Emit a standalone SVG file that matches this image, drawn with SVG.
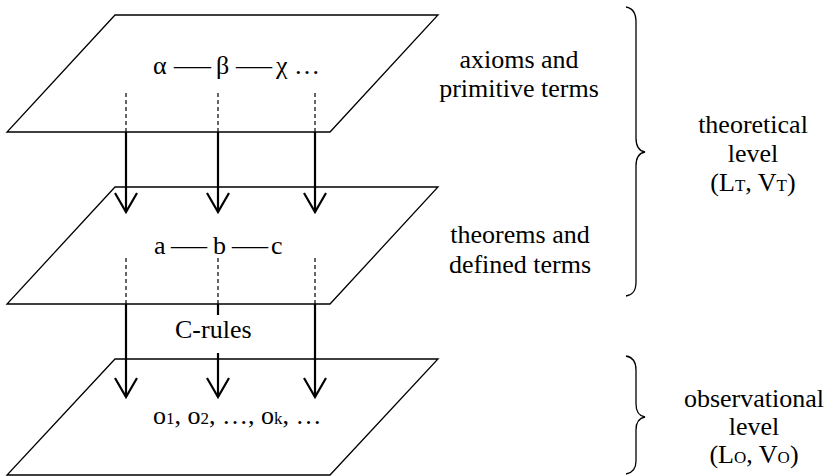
<svg xmlns="http://www.w3.org/2000/svg" width="831" height="476" viewBox="0 0 831 476">
  <style>
    .plane { fill: #fff; stroke: #000; stroke-width: 1.3; stroke-linejoin: miter; }
    .lbl { font-family: "Liberation Serif", "Times New Roman", serif; font-size: 26px; fill: #000; }
    .mid { text-anchor: middle; }
    .sub { font-size: 17px; }
    .dash { stroke: #000; stroke-width: 1.2; stroke-dasharray: 4 3; fill: none; }
    .arrow { stroke: #000; stroke-width: 2.2; fill: none; }
    .brace { stroke: #000; stroke-width: 1.3; fill: none; }
  </style>
  <defs>
    <marker id="head" markerUnits="userSpaceOnUse" viewBox="-22 -13 24 26" refX="0" refY="0" markerWidth="24" markerHeight="26" orient="auto" overflow="visible">
      <path d="M-19,-11 L0,0 L-19,11" fill="none" stroke="#000" stroke-width="2.2"/>
    </marker>
  </defs>
  <rect x="0" y="0" width="831" height="476" fill="#fff"/>

  <g id="plane-axioms">
    <polygon class="plane" points="115,15 438,15 330,132 7,132"/>
    <text class="lbl" y="74"><tspan x="153">α</tspan><tspan x="174" textLength="37" lengthAdjust="spacingAndGlyphs">—</tspan><tspan x="216">β</tspan><tspan x="236" textLength="36" lengthAdjust="spacingAndGlyphs">—</tspan><tspan x="276">χ</tspan><tspan x="294">…</tspan></text>
  </g>
  <g id="label-axioms">
    <text class="lbl mid" x="519" y="68">axioms and</text>
    <text class="lbl mid" x="519" y="97">primitive terms</text>
  </g>

  <g id="plane-theorems">
    <polygon class="plane" points="115,187 438,187 330,304 7,304"/>
    <text class="lbl" y="254"><tspan x="154">a</tspan><tspan x="171" textLength="36" lengthAdjust="spacingAndGlyphs">—</tspan><tspan x="213">b</tspan><tspan x="232" textLength="36" lengthAdjust="spacingAndGlyphs">—</tspan><tspan x="271">c</tspan></text>
  </g>
  <g id="label-theorems">
    <text class="lbl mid" x="520" y="243">theorems and</text>
    <text class="lbl mid" x="520" y="273">defined terms</text>
  </g>

  <g id="plane-observations">
    <polygon class="plane" points="115,359 438,359 330,475 7,475"/>
    <text class="lbl" x="153" y="424">o<tspan class="sub">1</tspan>, o<tspan class="sub">2</tspan>, …, o<tspan class="sub">k</tspan>, …</text>
  </g>

  <g id="connectors">
    <line class="dash" x1="126" y1="93" x2="126" y2="132"/>
    <line class="dash" x1="218" y1="93" x2="218" y2="132"/>
    <line class="dash" x1="315" y1="93" x2="315" y2="132"/>
    <line class="arrow" x1="126" y1="132" x2="126" y2="212" marker-end="url(#head)"/>
    <line class="arrow" x1="218" y1="132" x2="218" y2="212" marker-end="url(#head)"/>
    <line class="arrow" x1="315" y1="132" x2="315" y2="212" marker-end="url(#head)"/>

    <line class="dash" x1="126" y1="258" x2="126" y2="304"/>
    <line class="dash" x1="218" y1="258" x2="218" y2="304"/>
    <line class="dash" x1="315" y1="258" x2="315" y2="304"/>
    <line class="arrow" x1="126" y1="304" x2="126" y2="397" marker-end="url(#head)"/>
    <line class="arrow" x1="218" y1="304" x2="218" y2="315"/>
    <line class="arrow" x1="218" y1="353" x2="218" y2="397" marker-end="url(#head)"/>
    <line class="arrow" x1="315" y1="304" x2="315" y2="397" marker-end="url(#head)"/>
    <text class="lbl" x="175" y="338">C-rules</text>
  </g>

  <g id="brace-theoretical">
    <path class="brace" d="M626,7 C632,8 636,12 636,22 L636,138 C636,147 639,151 645,152 C639,153 636,157 636,166 L636,282 C636,292 632,295 626,296"/>
    <text class="lbl mid" x="753" y="133">theoretical</text>
    <text class="lbl mid" x="753" y="162">level</text>
    <text class="lbl mid" x="753" y="191">(L<tspan class="sub">T</tspan>, V<tspan class="sub">T</tspan>)</text>
  </g>

  <g id="brace-observational">
    <path class="brace" d="M626,356 C632,357 636,361 636,370 L636,404 C636,412 639,416 645,417 C639,418 636,422 636,430 L636,461 C636,470 632,473 626,474"/>
    <text class="lbl mid" x="754" y="407">observational</text>
    <text class="lbl mid" x="754" y="435">level</text>
    <text class="lbl mid" x="754" y="463">(L<tspan class="sub">O</tspan>, V<tspan class="sub">O</tspan>)</text>
  </g>
</svg>
